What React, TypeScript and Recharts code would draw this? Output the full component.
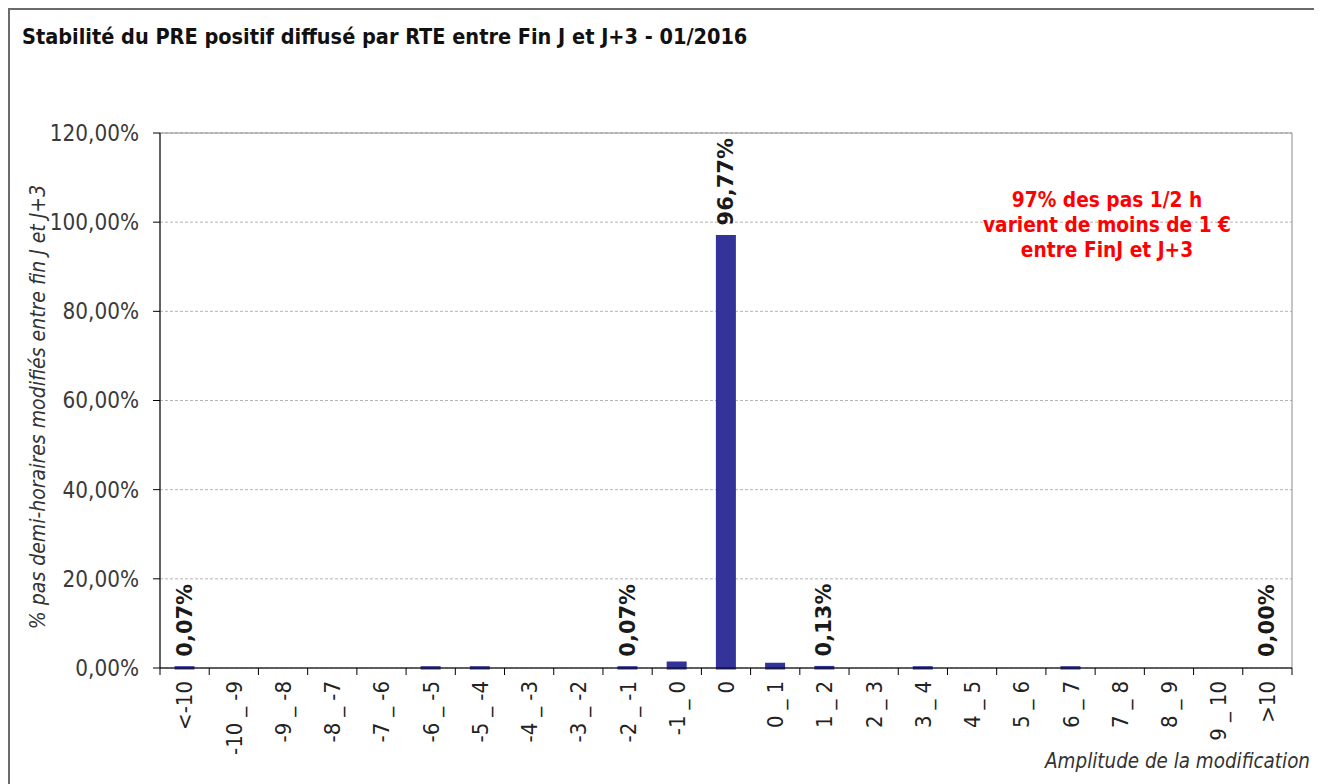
import React from 'react';
import { ComposedChart, Bar, Line, XAxis, YAxis, CartesianGrid, LabelList, ReferenceArea } from 'recharts';

// ---- data ----
const categories = [
  '<-10', '-10_-9', '-9_-8', '-8_-7', '-7_-6', '-6_-5', '-5_-4', '-4_-3', '-3_-2', '-2_-1', '-1_0',
  '0', '0_1', '1_2', '2_3', '3_4', '4_5', '5_6', '6_7', '7_8', '8_9', '9_10', '>10',
];
const shares = [
  0.07, 0, 0, 0, 0, 0.07, 0.07, 0, 0, 0.07, 1.1,
  96.77, 0.85, 0.13, 0, 0.07, 0, 0, 0.07, 0, 0, 0, 0,
];
const shownLabels: (string | null)[] = [
  '0,07%', null, null, null, null, null, null, null, null, '0,07%', null,
  '96,77%', null, '0,13%', null, null, null, null, null, null, null, null, '0,00%',
];
const yTicks = [0, 20, 40, 60, 80, 100, 120];
const chartTitle = 'Stabilité du PRE positif diffusé par RTE entre Fin J et J+3 - 01/2016';
const yTitle = '% pas demi-horaires modifiés entre fin J et J+3';
const xTitle = 'Amplitude de la modification';
const noteLines = ['97% des pas 1/2 h', 'varient de moins de 1 €', 'entre FinJ et J+3'];

const data = categories.map((c, i) => ({ cat: c, share: shares[i] }));

// ---- layout ----
const W = 1306;
const H = 774;
const M = { top: 123, right: 24, bottom: 16, left: 60 };
const Y_AXIS_W = 90;
const X_AXIS_H = 100;
const PLOT_LEFT = M.left + Y_AXIS_W;
const PLOT_RIGHT = W - M.right;
const PLOT_TOP = M.top;
const BAND = (PLOT_RIGHT - PLOT_LEFT) / categories.length;
const FONT = '"DejaVu Sans Condensed", "DejaVu Sans", sans-serif';
const FONT_WIDE = '"DejaVu Sans", sans-serif';
const BAR_COLOR = '#333399';

const fmtPct = (v: number) => v.toFixed(2).replace('.', ',') + '%';

const CategoryTick = (props: any) => {
  const { x, y, payload } = props;
  const ty = y + 13;
  const label = String(payload.value);
  const isLast = label === categories[categories.length - 1];
  const parts = label.split('_');
  return (
    <g>
      <line x1={x - BAND / 2} x2={x - BAND / 2} y1={y} y2={y + 7} stroke="#000" strokeWidth={1} />
      {isLast && <line x1={x + BAND / 2} x2={x + BAND / 2} y1={y} y2={y + 7} stroke="#000" strokeWidth={1} />}
      <text
        x={x}
        y={ty}
        transform={`rotate(-90 ${x} ${ty})`}
        textAnchor="end"
        dominantBaseline="central"
        fontFamily={FONT}
        fontSize={22}
        fill="#222"
      >
        {parts.length === 2 ? (
          <>
            <tspan>{parts[0]}</tspan>
            <tspan dx={6}>_</tspan>
            <tspan dx={6}>{parts[1]}</tspan>
          </>
        ) : (
          label
        )}
      </text>
    </g>
  );
};

const PointValueLabel = (props: any) => {
  const { x, y, index } = props;
  const text = shownLabels[index];
  if (!text || x == null || y == null) return null;
  const natural = y - 11;
  const approxLen = text.length * 15;
  let ay = natural;
  let anchor: 'start' | 'end' = 'start';
  if (natural - approxLen < PLOT_TOP + 20) {
    ay = PLOT_TOP + 5;
    anchor = 'end';
  }
  return (
    <text
      x={x}
      y={ay}
      transform={`rotate(-90 ${x} ${ay})`}
      textAnchor={anchor}
      dominantBaseline="central"
      fontFamily={FONT_WIDE}
      fontWeight="bold"
      fontSize={21}
      fill="#1a1a1a"
    >
      {text}
    </text>
  );
};

export default function App() {
  return (
    <div
      style={{
        position: 'relative',
        width: W,
        height: 790,
        border: '2px solid #6b6b6b',
        background: '#fff',
      }}
    >
      <ComposedChart width={W} height={H} data={data} margin={M} barSize={17}>
        <CartesianGrid vertical={false} stroke="#b4b4b4" strokeDasharray="3 2" />
        <XAxis
          dataKey="cat"
          interval={0}
          tickLine={false}
          tickSize={0}
          tickMargin={0}
          height={X_AXIS_H}
          axisLine={{ stroke: '#000', strokeWidth: 1 }}
          tick={<CategoryTick />}
        />
        <YAxis
          domain={[0, 120]}
          ticks={yTicks}
          tickFormatter={fmtPct}
          width={Y_AXIS_W}
          tickSize={7}
          tickMargin={14}
          axisLine={{ stroke: '#000', strokeWidth: 1 }}
          tickLine={{ stroke: '#000', strokeWidth: 1 }}
          tick={{ fontFamily: FONT, fontSize: 22.3, fill: '#3a3a3a' }}
        />
        <ReferenceArea
          x1={categories[0]}
          x2={categories[categories.length - 1]}
          y1={0}
          y2={120}
          fill="none"
          stroke="#8c8c8c"
          strokeWidth={1}
          ifOverflow="visible"
        />
        <Bar
          dataKey="share"
          fill={BAR_COLOR}
          stroke={BAR_COLOR}
          strokeWidth={3}
          isAnimationActive={false}
        />
        <Line
          dataKey="share"
          stroke="none"
          dot={false}
          activeDot={false}
          legendType="none"
          isAnimationActive={false}
        >
          <LabelList dataKey="share" content={<PointValueLabel />} />
        </Line>
      </ComposedChart>
      <svg
        width={W}
        height={H}
        style={{ position: 'absolute', left: 0, top: 0, pointerEvents: 'none' }}
      >
        <text x={12} y={34} fontFamily={FONT} fontWeight="bold" fontSize={21.5} fill="#111">
          {chartTitle}
        </text>
        <text
          x={28}
          y={397}
          transform="rotate(-90 28 397)"
          textAnchor="middle"
          dominantBaseline="central"
          fontFamily={FONT}
          fontStyle="italic"
          fontSize={21}
          fill="#333"
        >
          {yTitle}
        </text>
        <text x={1300} y={758} textAnchor="end" fontFamily={FONT} fontStyle="italic" fontSize={20.4} fill="#333">
          {xTitle}
        </text>
        {noteLines.map((line, i) => (
          <text
            key={i}
            x={1097}
            y={197 + i * 25}
            textAnchor="middle"
            fontFamily={FONT}
            fontWeight="bold"
            fontSize={20.7}
            fill="#ff0000"
          >
            {line}
          </text>
        ))}
      </svg>
    </div>
  );
}
